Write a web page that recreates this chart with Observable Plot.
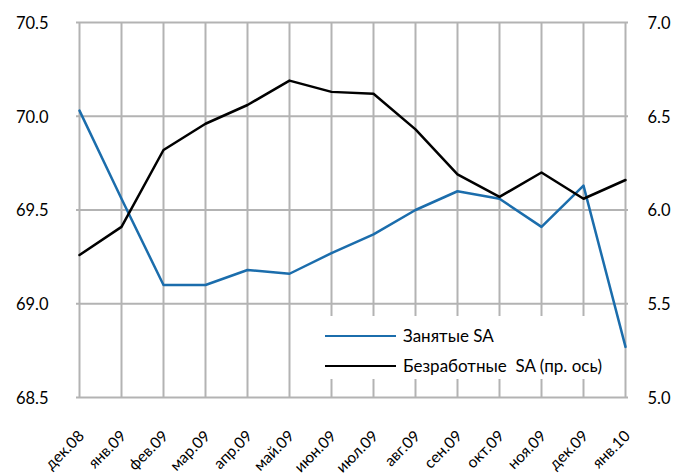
<!DOCTYPE html>
<html>
<head>
<meta charset="utf-8">
<script src="https://cdn.jsdelivr.net/npm/d3@7"></script>
<script src="https://cdn.jsdelivr.net/npm/@observablehq/plot@0.6"></script>
<style>
  body { margin: 0; background: #fff; }
  #wrap { position: relative; width: 678px; height: 475px; font-family: Lato, "Open Sans", sans-serif; }
  #legend { position: absolute; left: 320px; top: 316px; width: 294px; height: 63px; background: #fff; }
  #legend .item { position: absolute; left: 5px; display: flex; align-items: center; font-size: 17px; color: #000; white-space: pre; line-height: 20px; }
  #legend .swatch { width: 71px; height: 2.5px; margin-right: 7px; }
</style>
</head>
<body>
<div id="wrap">
  <div id="chart"></div>
  <div id="legend">
    <div class="item" style="top:10px"><span class="swatch" style="background:#1b6dac"></span><span>Занятые SA</span></div>
    <div class="item" style="top:40px"><span class="swatch" style="background:#000"></span><span>Безработные  SA (пр. ось)</span></div>
  </div>
</div>
<script>
const months = ["дек.08","янв.09","фев.09","мар.09","апр.09","май.09","июн.09","июл.09","авг.09","сен.09","окт.09","ноя.09","дек.09","янв.10"];
const employed = [70.03, 69.56, 69.10, 69.10, 69.18, 69.16, 69.27, 69.37, 69.50, 69.60, 69.56, 69.41, 69.63, 68.77];
const unemployed = [5.76, 5.91, 6.32, 6.46, 6.56, 6.69, 6.63, 6.62, 6.43, 6.19, 6.07, 6.20, 6.06, 6.16];
const leftTicks = [68.5, 69.0, 69.5, 70.0, 70.5];
const rightTicks = [5.0, 5.5, 6.0, 6.5, 7.0];

// right axis domain [5, 7] mapped onto left domain [68.5, 70.5]
const toLeft = v => 68.5 + (v - 5.0) * (70.5 - 68.5) / (7.0 - 5.0);
const fromLeft = v => 5.0 + (v - 68.5) * (7.0 - 5.0) / (70.5 - 68.5);

const empData = months.map((m, i) => ({m, v: employed[i]}));
const unData = months.map((m, i) => ({m, v: toLeft(unemployed[i])}));

const grid = "#b3b3b3";
const chart = Plot.plot({
  width: 678,
  height: 475,
  marginLeft: 76,
  marginRight: 50,
  marginTop: 22,
  marginBottom: 78,
  style: {fontFamily: "Lato, 'Open Sans', sans-serif", fontSize: "16px", color: "#000", background: "#fff"},
  x: {type: "point", domain: months, padding: 0},
  y: {domain: [68.5, 70.5]},
  marks: [
    Plot.ruleX(months, {stroke: grid, strokeWidth: 2}),
    Plot.ruleY(leftTicks, {stroke: grid, strokeWidth: 2}),
    Plot.axisY(leftTicks, {anchor: "left", tickSize: 0, tickPadding: 28, tickFormat: d => d.toFixed(1), label: null, fontSize: 16.5, dy: 1}),
    Plot.axisY(rightTicks.map(toLeft), {anchor: "right", tickSize: 0, tickPadding: 19, tickFormat: d => fromLeft(d).toFixed(1), label: null, fontSize: 16.5, dy: 1}),
    Plot.axisX(months, {anchor: "bottom", tickSize: 0, tickPadding: 36, tickRotate: -45, label: null, fontSize: 15.5, dx: 2}),
    Plot.line(empData, {x: "m", y: "v", stroke: "#1b6dac", strokeWidth: 2.5}),
    Plot.line(unData, {x: "m", y: "v", stroke: "#000", strokeWidth: 2.5})
  ]
});
document.getElementById("chart").appendChild(chart);
</script>
</body>
</html>
